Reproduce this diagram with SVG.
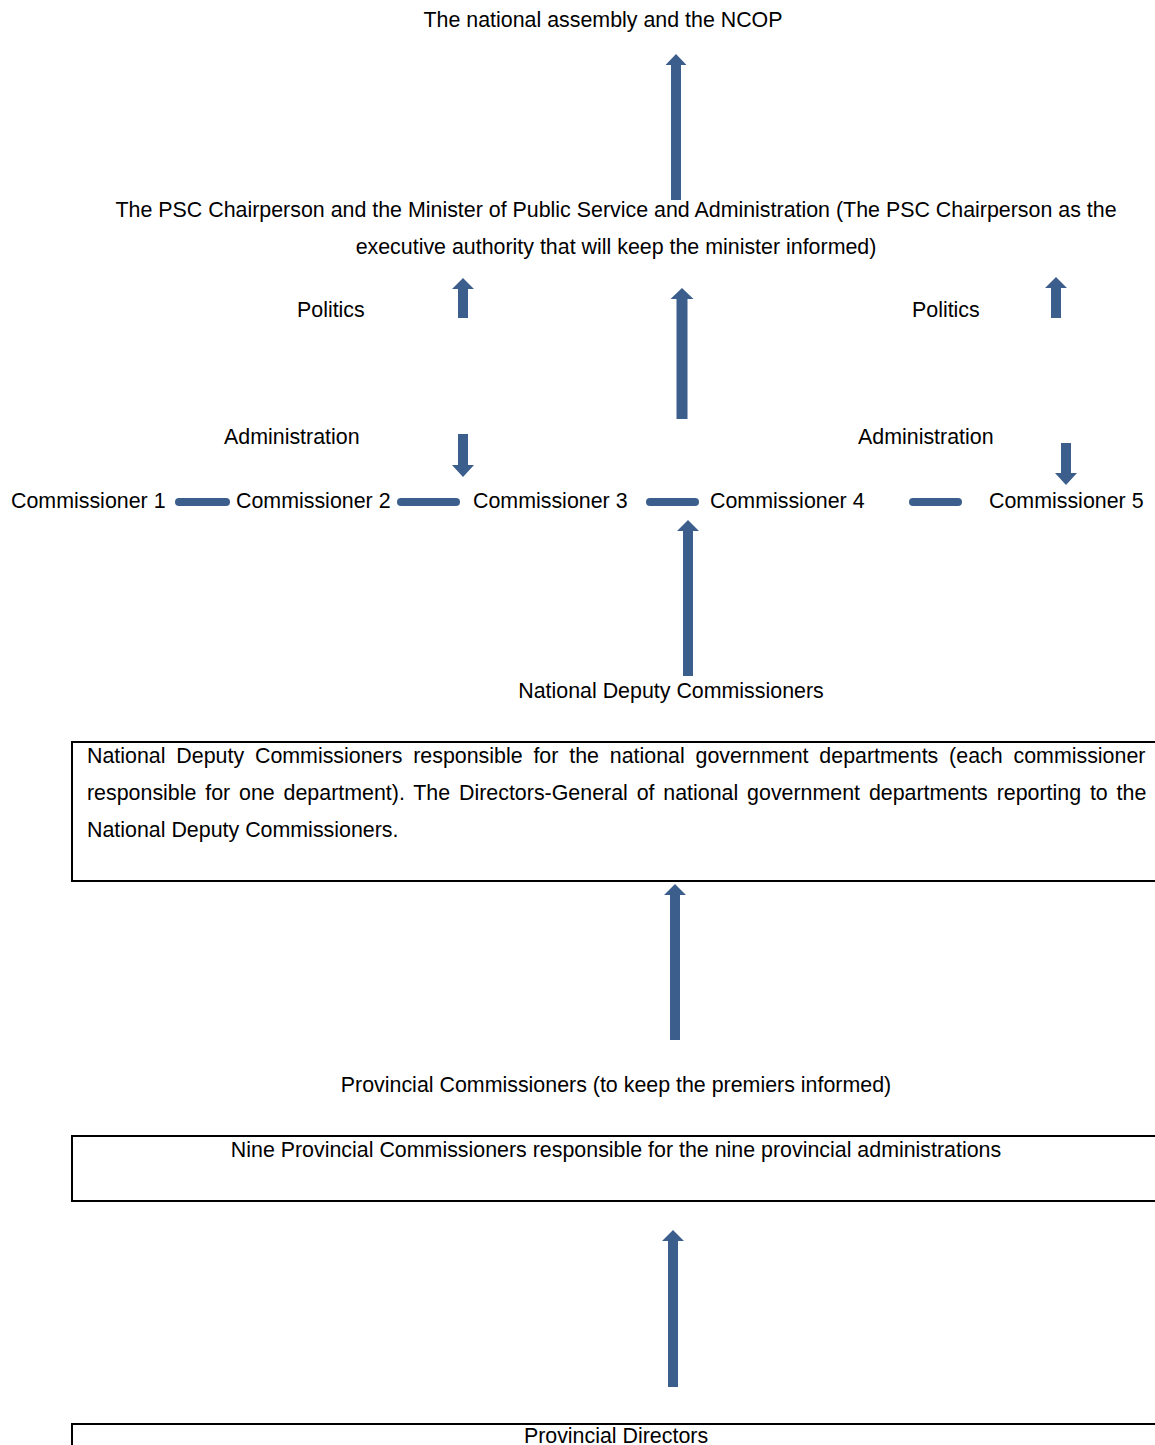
<svg xmlns="http://www.w3.org/2000/svg" width="1155" height="1445" viewBox="0 0 1155 1445">
<style>
text{font-family:"Liberation Sans",Arial,sans-serif;font-size:21.4px;fill:#000}
.c{text-anchor:middle}
.arrow{fill:#3B5E8C}
.bar{stroke:#3B5E8C;stroke-width:8;stroke-linecap:round;fill:none}
.box{fill:none;stroke:#000;stroke-width:2}
</style>
<rect width="1155" height="1445" fill="#fff"/>
<g id="connectors">
<path class="arrow" d="M671,200 V65 H665.5 L676,54 L686.5,65 H681 V200 Z"/>
<path class="arrow" d="M458,318 V289 H452 L463,278 L474,289 H468 V318 Z"/>
<path class="arrow" d="M458,434 V465 H452 L463,477 L474,465 H468 V434 Z"/>
<path class="arrow" d="M676.5,419 V299 H670.5 L682,288 L693.5,299 H687.5 V419 Z"/>
<path class="arrow" d="M1051,318 V288 H1045 L1056,277 L1067,288 H1061 V318 Z"/>
<path class="arrow" d="M1061,443 V473 H1055 L1066,485 L1077,473 H1071 V443 Z"/>
<path class="arrow" d="M683,676 V531 H677 L688,520 L699,531 H693 V676 Z"/>
<path class="arrow" d="M670,1040 V895 H664 L675,884 L686,895 H680 V1040 Z"/>
<path class="arrow" d="M668,1387 V1241 H662 L673,1230 L684,1241 H678 V1387 Z"/>
<line class="bar" x1="179" y1="502" x2="226" y2="502"/>
<line class="bar" x1="401" y1="502" x2="456" y2="502"/>
<line class="bar" x1="650" y1="502" x2="695" y2="502"/>
<line class="bar" x1="913" y1="502" x2="958" y2="502"/>
</g>
<g id="ncop"><text class="c" x="603" y="27">The national assembly and the NCOP</text></g>
<g id="psc">
<text class="c" x="616" y="217">The PSC Chairperson and the Minister of Public Service and Administration (The PSC Chairperson as the</text>
<text class="c" x="616" y="254">executive authority that will keep the minister informed)</text>
</g>
<g id="politics-left"><text x="297" y="317">Politics</text></g>
<g id="politics-right"><text x="912" y="317">Politics</text></g>
<g id="admin-left"><text x="224" y="444">Administration</text></g>
<g id="admin-right"><text x="858" y="444">Administration</text></g>
<g id="commissioner1"><text x="11" y="508">Commissioner 1</text></g>
<g id="commissioner2"><text x="236" y="508">Commissioner 2</text></g>
<g id="commissioner3"><text x="473" y="508">Commissioner 3</text></g>
<g id="commissioner4"><text x="710" y="508">Commissioner 4</text></g>
<g id="commissioner5"><text x="989" y="508">Commissioner 5</text></g>
<g id="ndc-label"><text class="c" x="671" y="698">National Deputy Commissioners</text></g>
<g id="ndc-box">
<rect class="box" x="72" y="742" width="1100" height="139"/>
<text x="87" y="763" style="word-spacing:4.9px">National Deputy Commissioners responsible for the national government departments (each commissioner</text>
<text x="87" y="800" style="word-spacing:2.9px">responsible for one department). The Directors-General of national government departments reporting to the</text>
<text x="87" y="837">National Deputy Commissioners.</text>
</g>
<g id="pc-label"><text class="c" x="616" y="1092">Provincial Commissioners (to keep the premiers informed)</text></g>
<g id="pc-box">
<rect class="box" x="72" y="1136" width="1100" height="65"/>
<text class="c" x="616" y="1157">Nine Provincial Commissioners responsible for the nine provincial administrations</text>
</g>
<g id="pd-box">
<rect class="box" x="72" y="1424" width="1100" height="40"/>
<text class="c" x="616" y="1443">Provincial Directors</text>
</g>
</svg>
